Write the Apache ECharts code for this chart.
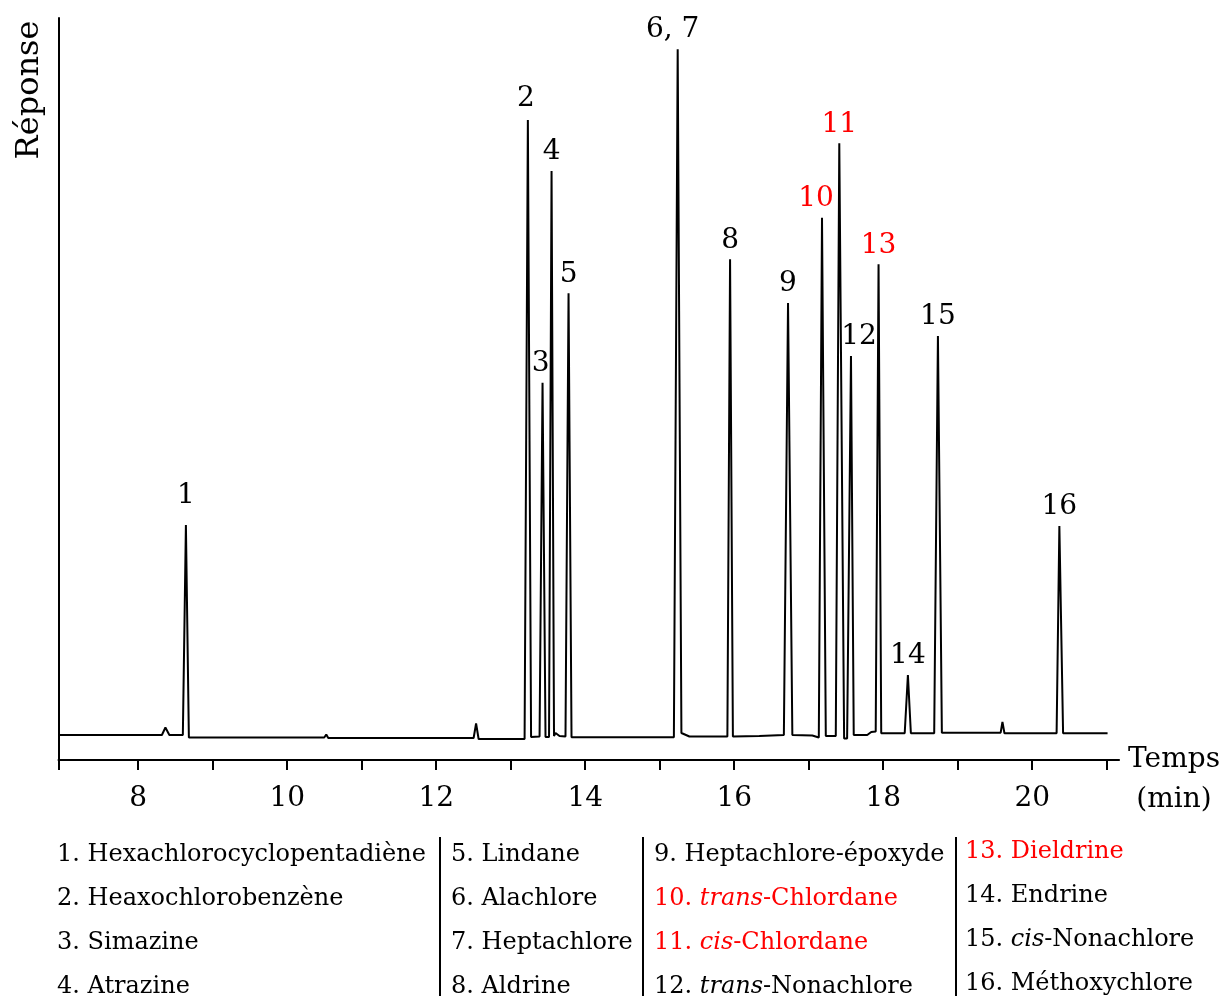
<!DOCTYPE html>
<html>
<head>
<meta charset="utf-8">
<script src="https://cdn.jsdelivr.net/npm/echarts@6/dist/echarts.min.js"></script>
<style>
html,body{margin:0;padding:0;background:#fff;}
#chart{width:1223px;height:996px;}
</style>
</head>
<body>
<div id="chart"></div>
<script>
// ---- Data ----
// Trace: retention time (min) and detector response (arbitrary units, 0-100)
const traceTime = [
  6.93, 8.318, 8.365, 8.418, 8.599, 8.640, 8.680, 10.497, 10.524, 10.551,
  12.502, 12.535, 12.569, 13.186, 13.230, 13.273, 13.387, 13.427, 13.467, 13.514,
  13.548, 13.581, 13.601, 13.655, 13.735, 13.776, 13.816, 15.190, 15.241, 15.291,
  15.398, 15.908, 15.944, 15.982, 16.337, 16.666, 16.722, 16.780, 17.048, 17.135,
  17.178, 17.229, 17.363, 17.410, 17.475, 17.515, 17.567, 17.604, 17.785, 17.839,
  17.899, 17.937, 17.973, 18.288, 18.331, 18.371, 18.684, 18.734, 18.787, 19.576,
  19.600, 19.627, 20.327, 20.364, 20.414, 21.011
];
const traceResponse = [
  3.37, 3.37, 4.38, 3.37, 3.37, 31.67, 3.03, 3.03, 3.44, 2.96,
  2.96, 4.92, 2.83, 2.83, 86.25, 3.10, 3.17, 50.85, 3.10, 3.10,
  79.38, 3.23, 3.64, 3.23, 3.17, 62.90, 3.06, 3.06, 95.78, 3.64,
  3.17, 3.17, 67.48, 3.17, 3.23, 3.37, 61.59, 3.37, 3.30, 3.03,
  73.09, 3.23, 3.23, 83.11, 2.90, 2.90, 54.45, 3.37, 3.37, 3.77,
  3.84, 66.81, 3.60, 3.60, 11.46, 3.60, 3.60, 57.14, 3.68, 3.68,
  5.12, 3.60, 3.60, 31.54, 3.60, 3.60
];

// Peak annotations
const peakLabels  = ['1', '2', '3', '4', '5', '6, 7', '8', '9', '10', '11', '12', '13', '14', '15', '16'];
const peakTimes   = [8.640, 13.230, 13.427, 13.548, 13.776, 15.241, 15.944, 16.722, 17.178, 17.410, 17.567, 17.937, 18.331, 18.734, 20.364];
const peakHeights = [31.67, 86.25, 50.85, 79.38, 62.90, 95.78, 67.48, 61.59, 73.09, 83.11, 54.45, 66.81, 11.46, 57.14, 31.54];

// Compound list (legend below the chart); {it|...} marks italic prefixes
const compoundNumbers = [1, 2, 3, 4, 5, 6, 7, 8, 9, 10, 11, 12, 13, 14, 15, 16];
const compoundNames = [
  'Hexachlorocyclopentadiène', 'Heaxochlorobenzène', 'Simazine', 'Atrazine',
  'Lindane', 'Alachlore', 'Heptachlore', 'Aldrine',
  'Heptachlore-époxyde', '{it|trans}-Chlordane', '{it|cis}-Chlordane', '{it|trans}-Nonachlore',
  'Dieldrine', 'Endrine', '{it|cis}-Nonachlore', 'Méthoxychlore'
];
const highlightedCompounds = [10, 11, 13];

// Axis ticks
const xTickValues  = [8, 9, 10, 11, 12, 13, 14, 15, 16, 17, 18, 19, 20, 21];
const xLabelValues = [8, 10, 12, 14, 16, 18, 20];

// ---- Layout / style ----
const FONT = 'DejaVu Serif';
const RED = '#ff0000';
const X_MIN = 6.93, X_MAX = 21.165;
const labelShift = {'1': [0, -10], '2': [-2, -2], '3': [-2, 0], '6, 7': [-5, -1], '10': [-6, 0], '12': [8, 0]};

const isRedLabel = lbl => lbl.indexOf(',') < 0 && highlightedCompounds.includes(parseInt(lbl, 10));

const chart = echarts.init(document.getElementById('chart'), null, {renderer: 'canvas'});

const peakData = peakLabels.map((lbl, i) => {
  const sh = labelShift[lbl] || [0, 0];
  return {
    value: [peakTimes[i], peakHeights[i]],
    label: {
      show: true,
      formatter: lbl,
      position: 'top',
      distance: 5,
      offset: sh,
      color: isRedLabel(lbl) ? RED : '#000',
      opacity: 1,
      fontFamily: FONT,
      fontSize: 28
    }
  };
});

// Legend table graphics
const colX = [57, 451, 654, 965];
const colDy = [0, 0, 0, -3];
const rowY0 = 858, rowGap = 44;
const legendGraphics = [];
compoundNames.forEach((name, i) => {
  const col = Math.floor(i / 4), row = i % 4;
  const num = compoundNumbers[i];
  const red = highlightedCompounds.includes(num);
  legendGraphics.push({
    type: 'text',
    left: colX[col],
    top: rowY0 + row * rowGap + colDy[col] - 15,
    style: {
      text: num + '. ' + name,
      font: '24px "' + FONT + '"',
      fill: red ? RED : '#000',
      rich: {it: {fontStyle: 'italic', fontSize: 24, fontFamily: FONT, fill: red ? RED : '#000'}}
    }
  });
});
[440, 643, 956].forEach(x => {
  legendGraphics.push({
    type: 'line',
    shape: {x1: x, y1: 837, x2: x, y2: 996},
    style: {stroke: '#000', lineWidth: 2}
  });
});
legendGraphics.push({
  type: 'text',
  x: 30, y: 90,
  rotation: Math.PI / 2,
  style: {
    text: 'Réponse',
    font: '32px "' + FONT + '"',
    fill: '#000',
    align: 'center',
    verticalAlign: 'middle'
  }
});

chart.setOption({
  animation: false,
  backgroundColor: '#fff',
  grid: {left: 58.5, top: 18, right: 103, bottom: 236, containLabel: false},
  xAxis: {
    type: 'value',
    min: X_MIN,
    max: X_MAX,
    name: ' \nTemps\n(min)',
    nameLocation: 'end',
    nameGap: 55,
    nameTextStyle: {
      fontFamily: FONT, fontSize: 28, color: '#000',
      align: 'center', verticalAlign: 'middle', lineHeight: 40
    },
    splitLine: {show: false},
    axisLine: {show: true, onZero: false, lineStyle: {color: '#000', width: 2}},
    axisTick: {show: true, inside: false, length: 10, customValues: [X_MIN].concat(xTickValues), lineStyle: {color: '#000', width: 2}},
    axisLabel: {show: true, customValues: xLabelValues, margin: 25, color: '#000', fontFamily: FONT, fontSize: 28}
  },
  yAxis: {
    type: 'value',
    min: 0,
    max: 100,
    splitLine: {show: false},
    axisLine: {show: true, lineStyle: {color: '#000', width: 2}},
    axisTick: {show: false},
    axisLabel: {show: false}
  },
  series: [
    {
      type: 'line',
      data: traceTime.map((t, i) => [t, traceResponse[i]]),
      symbol: 'none',
      lineStyle: {color: '#000', width: 2},
      z: 3
    },
    {
      type: 'scatter',
      data: peakData,
      symbolSize: 0,
      itemStyle: {opacity: 1},
      silent: true,
      z: 4
    }
  ],
  graphic: legendGraphics
});
</script>
</body>
</html>
